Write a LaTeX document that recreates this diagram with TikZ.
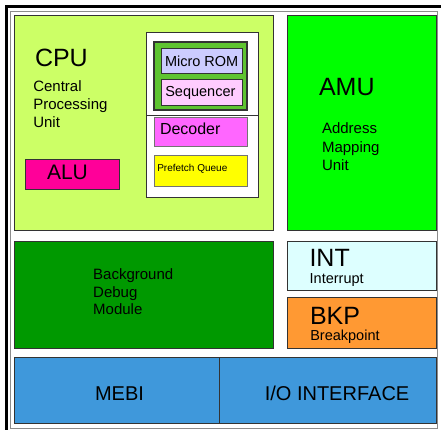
\documentclass[tikz,border=0pt]{standalone}
\usepackage{fontspec}
\setmainfont{Liberation Sans}
\begin{document}
\begin{tikzpicture}[x=1pt,y=-1pt,
  blk/.style={draw=black!80, line width=0.9pt, inner sep=0pt, outer sep=0pt, anchor=north west},
  lbl/.style={inner sep=0pt, outer sep=0pt, anchor=base west, text=black},
  huge/.style={font=\fontsize{25}{30}\selectfont},
  big/.style={font=\fontsize{20}{24}\selectfont},
  mid/.style={font=\fontsize{15}{18}\selectfont},
  sm/.style={font=\fontsize{14.5}{17}\selectfont},
  tiny/.style={font=\fontsize{10}{12}\selectfont}]
\definecolor{cpuC}{HTML}{CCFF66}
\definecolor{seqC}{HTML}{5EC430}
\definecolor{romC}{HTML}{CCCCFF}
\definecolor{sequC}{HTML}{FFCCFF}
\definecolor{decC}{HTML}{FF66FF}
\definecolor{preC}{HTML}{FFFF00}
\definecolor{aluC}{HTML}{FF0099}
\definecolor{amuC}{HTML}{00FF00}
\definecolor{bdmC}{HTML}{009900}
\definecolor{intC}{HTML}{DDFFFF}
\definecolor{bkpC}{HTML}{FF9933}
\definecolor{busC}{HTML}{3F98DB}
\useasboundingbox (0,0) rectangle (441,430);

% page frame: grey inner rule, heavy black rule on top and left
\draw[black!45, line width=0.8pt] (10,11) rectangle (437.5,428.5);
\draw[black, line width=3pt] (6.5,430) -- (6.5,6.5) -- (441,6.5);

% CPU block
\node[blk, fill=cpuC, minimum width=258.3, minimum height=215] (cpu) at (14.7,15) {};
\node[blk, fill=white, minimum width=112, minimum height=165] (ctrl) at (146,32) {};
\draw[black!80, line width=0.9pt] (ctrl.west |- 0,115) coordinate (divL) -- (ctrl.east |- 0,115) coordinate (divR);
\node[blk, fill=seqC, line width=1.2pt, minimum width=93, minimum height=68] (useq) at (154,42) {};
\node[blk, fill=romC, minimum width=81, minimum height=25] (rom) at (161,48) {};
\node[blk, fill=sequC, minimum width=81, minimum height=26] (sequ) at (161,79) {};
\node[blk, fill=decC, draw=black!55, minimum width=93, minimum height=29] (dec) at (154,117) {};
\node[blk, fill=preC, draw=black!55, minimum width=93, minimum height=31] (pre) at (154,155) {};
\node[blk, fill=aluC, minimum width=94, minimum height=30] (alu) at (25,159) {};

\node[lbl, huge] (cpuT) at (35,66.7) {CPU};
\node[lbl, mid] (cpuA) at (33.3,91.7) {Central};
\node[lbl, mid] (cpuB) at (33.3,110) {Processing};
\node[lbl, mid] (cpuC) at (33.3,127.5) {Unit};
\node[lbl, font=\fontsize{21}{25}\selectfont] (aluT) at (47,180) {ALU};
\node[lbl, sm] (romT) at (165,66.7) {Micro ROM};
\node[lbl, sm] (sequT) at (165.3,96.7) {Sequencer};
\node[lbl, font=\fontsize{16}{19}\selectfont] (decT) at (160,135) {Decoder};
\node[lbl, tiny] (preT) at (157.3,172) {Prefetch Queue};

% AMU block
\node[blk, fill=amuC, minimum width=148.3, minimum height=215] (amu) at (287.7,15) {};
\node[lbl, huge] (amuT) at (319,95.3) {AMU};
\node[lbl, mid] (amuA) at (322,134) {Address};
\node[lbl, mid] (amuB) at (322,152.7) {Mapping};
\node[lbl, mid] (amuC) at (322,170.7) {Unit};

% debug module
\node[blk, fill=bdmC, minimum width=258.6, minimum height=106.6] (bdm) at (14.7,241.7) {};
\node[lbl, mid] (bdmA) at (93.2,279.3) {Background};
\node[lbl, mid] (bdmB) at (93.2,297.3) {Debug};
\node[lbl, mid] (bdmC) at (93.2,314.3) {Module};

% interrupt and breakpoint
\node[blk, fill=intC, minimum width=148.3, minimum height=48.3] (int) at (287.7,241.7) {};
\node[lbl, huge] (intT) at (309.5,266.7) {INT};
\node[lbl, sm] (intS) at (309.7,283.3) {Interrupt};
\node[blk, fill=bkpC, minimum width=148.3, minimum height=51] (bkp) at (287.7,297.3) {};
\node[lbl, huge] (bkpT) at (310,324.3) {BKP};
\node[lbl, sm] (bkpS) at (310.3,340) {Breakpoint};

% bus interface
\node[blk, fill=busC, minimum width=204.6, minimum height=65.6] (mebi) at (14.7,357.7) {};
\node[blk, fill=busC, minimum width=216.7, minimum height=65.6] (io) at (219.3,357.7) {};
\node[lbl, big] (mebiT) at (95,400) {MEBI};
\node[lbl, big] (ioT) at (264.8,400) {I/O INTERFACE};
\end{tikzpicture}
\end{document}
